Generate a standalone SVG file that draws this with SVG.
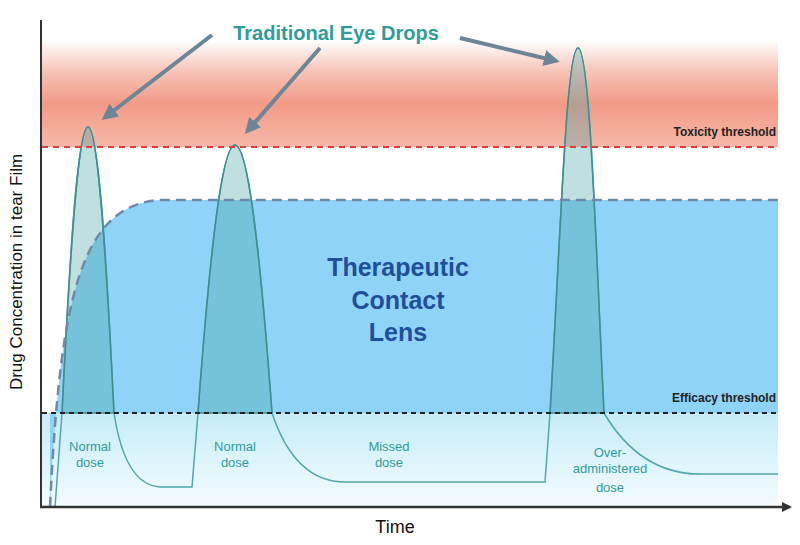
<svg xmlns="http://www.w3.org/2000/svg" width="800" height="545" viewBox="0 0 800 545">
<style>
text{font-family:"Liberation Sans",Arial,sans-serif}
.lbl{fill:#2f9c9c;font-size:13px;text-anchor:middle}
.thr{fill:#222;font-size:12px;font-weight:bold;text-anchor:end}
.ptr{stroke:#6c8597;stroke-width:4;fill:none;marker-end:url(#ah)}
</style>
<defs>
<linearGradient id="red" x1="0" y1="0" x2="0" y2="1">
<stop offset="0" stop-color="#f29a86" stop-opacity="0"/>
<stop offset="0.3" stop-color="#f29a86" stop-opacity="0.6"/>
<stop offset="0.6" stop-color="#f29a86" stop-opacity="1"/>
<stop offset="1" stop-color="#f29a86" stop-opacity="0.7"/>
</linearGradient>
<linearGradient id="lb" x1="0" y1="0" x2="0" y2="1">
<stop offset="0" stop-color="#c6ecf8"/>
<stop offset="1" stop-color="#f5fcff"/>
</linearGradient>
<clipPath id="above"><rect x="0" y="0" width="800" height="413"/></clipPath>
<marker id="ah" markerWidth="4" markerHeight="4" refX="2" refY="2" orient="auto"><path d="M0,0 L4,2 L0,4 z" fill="#6c8597"/></marker>
<marker id="axh" markerWidth="10" markerHeight="10" refX="8" refY="5" orient="auto" markerUnits="userSpaceOnUse"><path d="M0,0 L10,5 L0,10 z" fill="#333"/></marker>
</defs>
<g id="bands">
<rect x="42" y="40" width="736" height="107" fill="url(#red)"/>
<rect x="42" y="413" width="736" height="94" fill="url(#lb)"/>
<path d="M50,507 C60,300 80,205 160,200 L778,200 L778,413 L50,413 Z" fill="#8fd3f8"/>
</g>
<g id="drug-curve">
<path d="M55,507 L62,413 C70,250 78,127 88,127 C98,127 106,250 114,413 Q125,485 160,487 L192,487 L198,413 C210,250 222,145 235,145 C248,145 260,250 272,413 Q295,482 345,482 L545,482 L550,413 C560,250 566,48 578,48 C590,48 596,250 604,413 Q640,474 700,474 L778,474" fill="none" stroke="#4fa7aa" stroke-width="1.5"/>
<g fill="#4aa4a6" fill-opacity="0.35" stroke="#3d8f92" stroke-width="1.5">
<path d="M62,413 C70,250 78,127 88,127 C98,127 106,250 114,413 Z"/>
<path d="M198,413 C210,250 222,145 235,145 C248,145 260,250 272,413 Z"/>
<path d="M550,413 C560,250 566,48 578,48 C590,48 596,250 604,413 Z"/>
</g>
</g>
<g id="connectors">
<line x1="42" y1="147" x2="778" y2="147" stroke="#e03a3a" stroke-width="2" stroke-dasharray="6,5"/>
<line x1="42" y1="413" x2="778" y2="413" stroke="#222" stroke-width="2" stroke-dasharray="5,4"/>
<path d="M50,507 C60,300 80,205 160,200 L778,200" fill="none" stroke="#6f8aa8" stroke-width="2.5" stroke-dasharray="10,6"/>
<line x1="212" y1="35" x2="108" y2="115" class="ptr"/>
<line x1="320" y1="48" x2="250" y2="128" class="ptr"/>
<line x1="460" y1="38" x2="552" y2="60" class="ptr"/>
<line x1="41" y1="20" x2="41" y2="507" stroke="#333" stroke-width="2"/>
<line x1="40" y1="507" x2="790" y2="507" stroke="#333" stroke-width="2.5" marker-end="url(#axh)"/>
</g>
<g id="labels">
<text x="336" y="40" font-size="20" font-weight="bold" fill="#2f9c9c" text-anchor="middle">Traditional Eye Drops</text>
<g font-size="25" font-weight="bold" fill="#1f4e9a" text-anchor="middle">
<text x="398" y="276">Therapeutic</text><text x="398" y="309">Contact</text><text x="398" y="341">Lens</text>
</g>
<text x="776" y="136" class="thr">Toxicity threshold</text>
<text x="776" y="402" class="thr">Efficacy threshold</text>
<text class="lbl" x="90" y="451">Normal</text><text class="lbl" x="90" y="467">dose</text>
<text class="lbl" x="235" y="451">Normal</text><text class="lbl" x="235" y="467">dose</text>
<text class="lbl" x="389" y="451">Missed</text><text class="lbl" x="389" y="467">dose</text>
<text class="lbl" x="610" y="457">Over-</text><text class="lbl" x="610" y="473">administered</text><text class="lbl" x="610" y="492">dose</text>
<text x="395" y="533" font-size="18" fill="#111" text-anchor="middle">Time</text>
<text transform="translate(22,272) rotate(-90)" font-size="17" fill="#111" text-anchor="middle">Drug Concentration in tear Film</text>
</g>
</svg>
